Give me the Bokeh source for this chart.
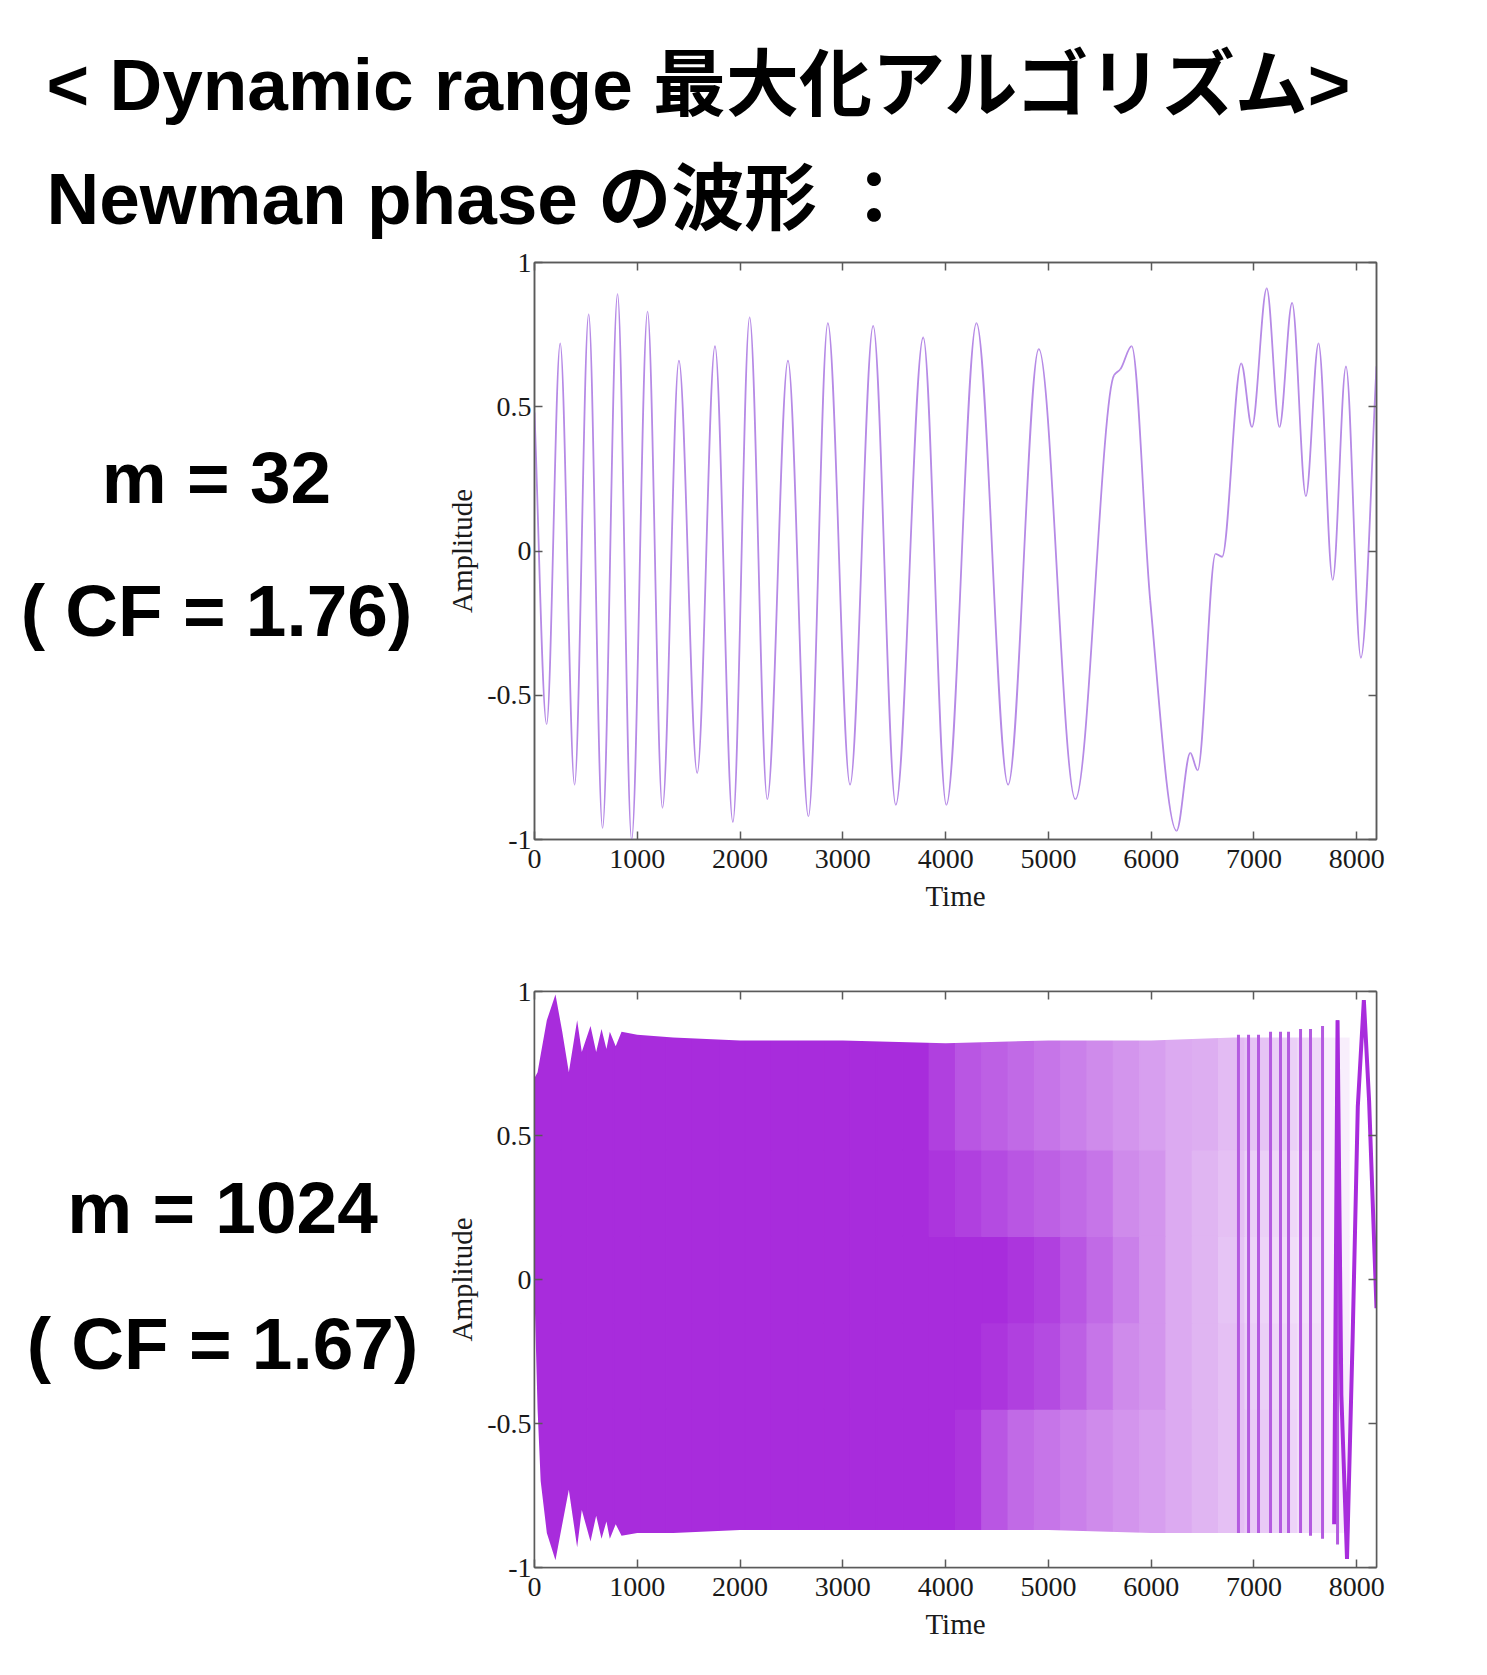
import numpy as np
from bokeh.plotting import figure
from bokeh.layouts import column, row
from bokeh.models import Range1d, FixedTicker, LinearAxis, ColumnDataSource, LinearColorMapper
from bokeh.transform import transform
from bokeh.core.properties import value
from bokeh.embed import file_html
from bokeh.resources import INLINE

# ---------------- data ----------------
title_lines = ["< Dynamic range 最大化アルゴリズム>", "Newman phase の波形  ："]
labels_top = ["m = 32", "( CF = 1.76)"]
labels_bottom = ["m = 1024", "( CF = 1.67)"]

x_ticks = [0, 1000, 2000, 3000, 4000, 5000, 6000, 7000, 8000]
y_ticks = [-1, -0.5, 0, 0.5, 1]
y_tick_labels = ["-1", "-0.5", "0", "0.5", "1"]

# m = 32 waveform: extrema / shape points
m32_t = [0, 118, 250, 390, 527, 662, 808, 945, 1100, 1245, 1405, 1583, 1756, 1930,
         2093, 2265, 2466, 2665, 2854, 3070, 3295, 3515, 3782, 4007, 4300, 4608,
         4906, 5262, 5640, 5700, 5810, 5990, 6247, 6380, 6452, 6626, 6690, 6876,
         6980, 7124, 7248, 7371, 7505, 7628, 7766, 7895, 8040, 8192]
m32_a = [0.48, -0.60, 0.72, -0.81, 0.82, -0.96, 0.89, -1.0, 0.83, -0.89, 0.66, -0.77,
         0.71, -0.94, 0.81, -0.86, 0.66, -0.92, 0.79, -0.81, 0.78, -0.88, 0.74, -0.88,
         0.79, -0.81, 0.70, -0.86, 0.61, 0.63, 0.71, -0.17, -0.97, -0.70, -0.76, -0.01,
         -0.02, 0.65, 0.43, 0.91, 0.43, 0.86, 0.19, 0.72, -0.10, 0.64, -0.37, 0.64]

# m = 1024 waveform: envelope
env_t = [0, 30, 60, 120, 204, 270, 334, 415, 460, 545, 600, 652, 700, 733, 790, 847,
         1000, 1350, 2000, 3000, 4000, 5000, 6000, 6800, 7300, 7780]
env_hi = [0.70, 0.72, 0.78, 0.90, 0.99, 0.86, 0.72, 0.90, 0.79, 0.88, 0.79, 0.87, 0.80,
          0.86, 0.81, 0.86, 0.85, 0.84, 0.83, 0.83, 0.82, 0.83, 0.83, 0.84, 0.84, 0.84]
env_lo = [-0.05, -0.45, -0.70, -0.88, -0.975, -0.85, -0.73, -0.93, -0.80, -0.91, -0.82,
          -0.90, -0.84, -0.90, -0.85, -0.89, -0.88, -0.88, -0.87, -0.87, -0.87, -0.87,
          -0.88, -0.88, -0.88, -0.88]

# density of the trace (0 = white, 1 = solid) per time bin of 256 samples, per amplitude band
dens_t_edges = list(range(0, 8193, 256))
dens_a_edges = [-1.0, -0.45, -0.15, 0.15, 0.45, 1.0]
dens_rows = [
    [1]*15 + [1.0, 0.95, 0.80, 0.70, 0.65, 0.60, 0.55, 0.50, 0.45, 0.40, 0.35, 0.30, 0.25, 0.20, 0.15, 0.08, 0.0],
    [1]*15 + [1.0, 1.00, 0.95, 0.90, 0.85, 0.75, 0.65, 0.55, 0.50, 0.40, 0.35, 0.30, 0.22, 0.18, 0.15, 0.08, 0.0],
    [1]*15 + [1.0, 1.00, 1.00, 0.95, 0.90, 0.80, 0.70, 0.60, 0.50, 0.40, 0.35, 0.28, 0.20, 0.16, 0.14, 0.08, 0.0],
    [1]*15 + [0.95, 0.90, 0.85, 0.80, 0.75, 0.70, 0.65, 0.55, 0.50, 0.40, 0.35, 0.30, 0.22, 0.18, 0.15, 0.08, 0.0],
    [1]*15 + [0.90, 0.80, 0.75, 0.70, 0.65, 0.60, 0.55, 0.50, 0.45, 0.40, 0.38, 0.32, 0.28, 0.22, 0.18, 0.08, 0.0],
]

# individual slow cycles visible near the end
sparse_t = [6849, 6947, 7044, 7161, 7258, 7336, 7453, 7550, 7667, 7813]
sparse_hi = [0.85, 0.85, 0.85, 0.86, 0.86, 0.86, 0.87, 0.87, 0.88, 0.90]
sparse_lo = [-0.88, -0.88, -0.88, -0.88, -0.88, -0.88, -0.88, -0.89, -0.90, -0.92]

tail_t = [7780, 7813, 7850, 7905, 7960, 8010, 8069, 8120, 8192]
tail_a = [-0.85, 0.90, -0.40, -0.97, -0.20, 0.60, 0.97, 0.62, -0.10]

# ---------------- styling / layout ----------------
W = 1487
HEAD_H = 240
ROW1_H, R1_TOP, R1_BOT = 690, 22, 91
ROW2_H, R2_TOP, R2_BOT = 745, 61, 108
LEFT_W = 420
PLOT_W = W - LEFT_W
SANS = "Liberation Sans, Noto Sans CJK JP"
SERIF = "Liberation Serif"
GRAY = "#5a5a5a"
DARK = "#A82CDC"
FS = 73
BASE_FIX = 0.37 * FS   # bokeh's alphabetic anchor lands this much lower


def text_fig(w, h, top=0, bot=0):
    # y data == canvas pixel row (flipped), frame borders match the neighbouring plot
    f = figure(width=w, height=h, x_range=Range1d(0, w), y_range=Range1d(h - bot, top),
               output_backend="svg", toolbar_location=None,
               min_border_left=0, min_border_right=0,
               min_border_top=top, min_border_bottom=bot,
               x_axis_location=None, y_axis_location=None)
    f.grid.visible = False
    f.outline_line_color = None
    return f


def wave_fig(h, top, bottom):
    p = figure(width=PLOT_W, height=h, x_range=Range1d(0, 8192), y_range=Range1d(-1, 1),
               output_backend="svg", toolbar_location=None,
               min_border_left=114, min_border_right=111,
               min_border_top=top, min_border_bottom=bottom)
    p.grid.visible = False
    p.outline_line_color = GRAY
    p.outline_line_width = 1.5
    p.xaxis.ticker = FixedTicker(ticks=x_ticks)
    p.yaxis.ticker = FixedTicker(ticks=y_ticks)
    p.yaxis.major_label_overrides = {t: s for t, s in zip(y_ticks, y_tick_labels)}
    p.xaxis.axis_label = "Time"
    p.yaxis.axis_label = "Amplitude"
    for ax in (p.xaxis[0], p.yaxis[0]):
        ax.axis_label_text_font = SERIF
        ax.axis_label_text_font_style = "normal"
        ax.axis_label_text_font_size = "29px"
        ax.axis_label_text_color = "#1a1a1a"
        ax.major_label_text_font = SERIF
        ax.major_label_text_font_size = "28px"
        ax.major_label_text_color = "#1a1a1a"
        ax.major_tick_in = 8
        ax.major_tick_out = 0
        ax.minor_tick_in = 0
        ax.minor_tick_out = 0
        ax.axis_line_color = GRAY
        ax.axis_line_width = 1.5
        ax.major_tick_line_color = GRAY
        ax.major_tick_line_width = 1.5
    p.xaxis.major_label_standoff = 10
    p.xaxis.axis_label_standoff = 9
    p.yaxis.major_label_standoff = 3
    p.yaxis.axis_label_standoff = 6
    for loc, ticks in (("above", x_ticks), ("right", y_ticks)):
        ax = LinearAxis(ticker=FixedTicker(ticks=ticks), major_label_text_color=None,
                        major_label_standoff=0, major_tick_in=8, major_tick_out=0,
                        minor_tick_in=0, minor_tick_out=0, axis_line_color=GRAY,
                        axis_line_width=1.5, major_tick_line_color=GRAY,
                        major_tick_line_width=1.5)
        p.add_layout(ax, loc)
    return p


# header
head = text_fig(W, HEAD_H)
head.text(x=[46, 46], y=[111 - BASE_FIX, 225 - BASE_FIX], text=title_lines, text_font=value(SANS),
          text_font_style="bold", text_font_size="%dpx" % FS, text_align="left",
          text_baseline="alphabetic", text_color="black")

# row 1
lab1 = text_fig(LEFT_W, ROW1_H, R1_TOP, R1_BOT)
lab1.text(x=[216, 216], y=[264 - BASE_FIX, 397 - BASE_FIX], text=labels_top, text_font=value(SANS),
          text_font_style="bold", text_font_size="%dpx" % FS, text_align="center",
          text_baseline="alphabetic", text_color="black")

p1 = wave_fig(ROW1_H, R1_TOP, R1_BOT)


def pchip_slopes(x, y):
    x = np.asarray(x, float); y = np.asarray(y, float)
    h = np.diff(x); d = np.diff(y) / h
    m = np.zeros(len(x))
    for k in range(1, len(x) - 1):
        if d[k - 1] * d[k] <= 0:
            m[k] = 0.0
        else:
            w1 = 2 * h[k] + h[k - 1]
            w2 = h[k] + 2 * h[k - 1]
            m[k] = (w1 + w2) / (w1 / d[k - 1] + w2 / d[k])
    m[0] = d[0]
    m[-1] = d[-1]
    return m


tx = np.asarray(m32_t, float); ty = np.asarray(m32_a, float)
ms = pchip_slopes(tx, ty)
hh = np.diff(tx)
bz = ColumnDataSource(dict(
    x0=tx[:-1], y0=ty[:-1], x1=tx[1:], y1=ty[1:],
    cx0=tx[:-1] + hh / 3, cy0=ty[:-1] + ms[:-1] * hh / 3,
    cx1=tx[1:] - hh / 3, cy1=ty[1:] - ms[1:] * hh / 3))
p1.bezier(x0="x0", y0="y0", x1="x1", y1="y1", cx0="cx0", cy0="cy0", cx1="cx1", cy1="cy1",
          source=bz, line_color="#B68AE6", line_width=1.8)

# row 2
lab2 = text_fig(LEFT_W, ROW2_H, R2_TOP, R2_BOT)
lab2.text(x=[222, 222], y=[304 - BASE_FIX, 440 - BASE_FIX], text=labels_bottom, text_font=value(SANS),
          text_font_style="bold", text_font_size="%dpx" % FS, text_align="center",
          text_baseline="alphabetic", text_color="black")

p2 = wave_fig(ROW2_H, R2_TOP, R2_BOT)

# palette white -> purple
c0 = np.array([255, 255, 255]); c1 = np.array([168, 44, 220])
palette = ["#%02x%02x%02x" % tuple((c0 + (c1 - c0) * f).astype(int)) for f in np.linspace(0, 1, 256)]
mapper = LinearColorMapper(palette=palette, low=0, high=1)

ql, qr, qb, qt, qd = [], [], [], [], []
for j in range(len(dens_a_edges) - 1):
    for i in range(len(dens_t_edges) - 1):
        ql.append(dens_t_edges[i]); qr.append(dens_t_edges[i + 1])
        qb.append(dens_a_edges[j]); qt.append(dens_a_edges[j + 1])
        qd.append(dens_rows[j][i])
qsrc = ColumnDataSource(dict(left=ql, right=qr, bottom=qb, top=qt, d=qd))
p2.quad(left="left", right="right", bottom="bottom", top="top", source=qsrc,
        fill_color=transform("d", mapper), line_color=transform("d", mapper), line_width=1.2)

# white outside the envelope
p2.varea(x=env_t + [8192], y1=env_hi + [env_hi[-1]], y2=[1.0] * (len(env_t) + 1), fill_color="white")
p2.varea(x=env_t + [8192], y1=env_lo + [env_lo[-1]], y2=[-1.0] * (len(env_t) + 1), fill_color="white")

p2.segment(x0=sparse_t, y0=sparse_lo, x1=sparse_t, y1=sparse_hi, line_color="#B45BE0", line_width=3)
p2.line(x=tail_t, y=tail_a, line_color=DARK, line_width=4)

layout = column(head, row(lab1, p1), row(lab2, p2))
open("out.html", "w").write(file_html(layout, INLINE))
